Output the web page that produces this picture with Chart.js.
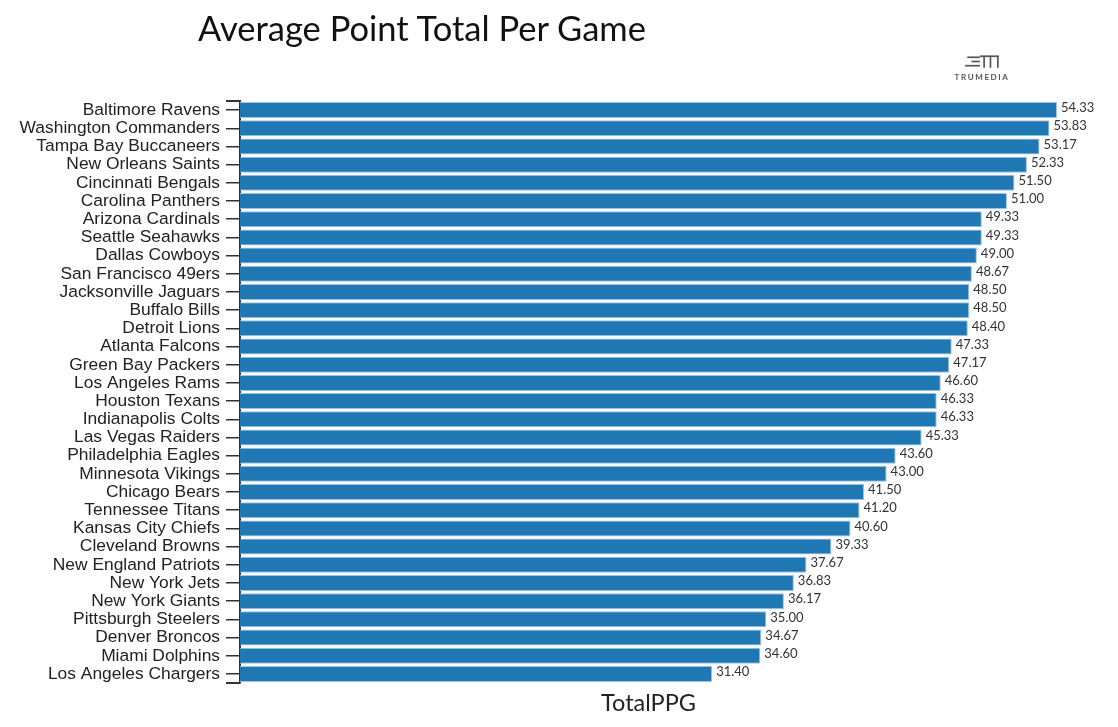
<!DOCTYPE html>
<html>
<head>
<meta charset="utf-8">
<script src="https://cdn.jsdelivr.net/npm/chart.js@4.4.1/dist/chart.umd.min.js"></script>
<style>
  html, body { margin: 0; padding: 0; background: #fff; }
  #wrap { position: relative; width: 1118px; height: 727px; }
  #title {
    position: absolute; left: 198px; top: 7px;
    font-family: Lato, sans-serif; font-size: 34.5px; color: #111;
  }
  #logo {
    position: absolute; left: 952px; top: 53px; width: 60px; text-align: center;
    font-family: Lato, sans-serif; font-size: 8px; font-weight: bold;
    letter-spacing: 1.6px; color: #555;
  }
</style>
</head>
<body>
<div id="wrap">
  <canvas id="chart"></canvas>
  <div id="title">Average Point Total Per Game</div>
  <div id="logo">
    <svg width="38" height="17" viewBox="0 0 36 16">
      <g stroke="#555" stroke-width="1.6" fill="none">
        <line x1="4" y1="4" x2="16" y2="4"/>
        <line x1="8" y1="8" x2="16" y2="8"/>
        <line x1="2" y1="12" x2="16" y2="12"/>
        <line x1="16" y1="3" x2="34" y2="3"/>
        <line x1="20" y1="3" x2="20" y2="14"/>
        <line x1="26" y1="3" x2="26" y2="14"/>
        <line x1="33" y1="3" x2="33" y2="14"/>
      </g>
    </svg>
    <div>TRUMEDIA</div>
  </div>
</div>
<script>
const teams = [
  'Baltimore Ravens', 'Washington Commanders', 'Tampa Bay Buccaneers', 'New Orleans Saints',
  'Cincinnati Bengals', 'Carolina Panthers', 'Arizona Cardinals', 'Seattle Seahawks',
  'Dallas Cowboys', 'San Francisco 49ers', 'Jacksonville Jaguars', 'Buffalo Bills',
  'Detroit Lions', 'Atlanta Falcons', 'Green Bay Packers', 'Los Angeles Rams',
  'Houston Texans', 'Indianapolis Colts', 'Las Vegas Raiders', 'Philadelphia Eagles',
  'Minnesota Vikings', 'Chicago Bears', 'Tennessee Titans', 'Kansas City Chiefs',
  'Cleveland Browns', 'New England Patriots', 'New York Jets', 'New York Giants',
  'Pittsburgh Steelers', 'Denver Broncos', 'Miami Dolphins', 'Los Angeles Chargers'
];
const totalPPG = [
  54.33, 53.83, 53.17, 52.33, 51.50, 51.00, 49.33, 49.33,
  49.00, 48.67, 48.50, 48.50, 48.40, 47.33, 47.17, 46.60,
  46.33, 46.33, 45.33, 43.60, 43.00, 41.50, 41.20, 40.60,
  39.33, 37.67, 36.83, 36.17, 35.00, 34.67, 34.60, 31.40
];

// value text after each bar + outer ticks at both ends of the y axis
const barLabels = {
  id: 'barLabels',
  afterDatasetsDraw(chart) {
    const ctx = chart.ctx;
    const meta = chart.getDatasetMeta(0);
    ctx.save();
    ctx.font = '13px Lato, sans-serif';
    ctx.fillStyle = '#333';
    ctx.textBaseline = 'middle';
    ctx.textAlign = 'left';
    meta.data.forEach((bar, i) => {
      ctx.fillText(totalPPG[i].toFixed(2), bar.x + 4, bar.y - 2);
    });
    const { left, top, bottom } = chart.chartArea;
    ctx.strokeStyle = '#333';
    ctx.lineWidth = 2;
    ctx.beginPath();
    ctx.moveTo(left - 14, top); ctx.lineTo(left, top);
    ctx.moveTo(left - 14, bottom); ctx.lineTo(left, bottom);
    ctx.stroke();
    ctx.restore();
  }
};

new Chart(document.getElementById('chart'), {
  type: 'bar',
  data: {
    labels: teams,
    datasets: [{
      label: 'TotalPPG',
      data: totalPPG,
      backgroundColor: '#1f77b4',
      borderColor: '#9cc3e3',
      borderWidth: 1,
      barPercentage: 0.88,
      categoryPercentage: 1
    }]
  },
  options: {
    indexAxis: 'y',
    responsive: true,
    maintainAspectRatio: false,
    animation: false,
    layout: { padding: { top: 101, right: 61, bottom: 0, left: 0 } },
    plugins: {
      legend: { display: false },
      tooltip: { enabled: false }
    },
    scales: {
      x: {
        min: 0,
        max: Math.max(...totalPPG),
        ticks: { display: false },
        grid: { display: false },
        border: { display: false },
        title: {
          display: true,
          text: 'TotalPPG',
          font: { family: 'Lato', size: 23.5 },
          color: '#222',
          padding: { top: 0, bottom: 9 }
        },
        afterFit(scale) { scale.height = 44; }
      },
      y: {
        offset: true,
        grid: { drawOnChartArea: false, offset: false, tickLength: 14, color: '#333', lineWidth: 1.5 },
        border: { color: '#333', width: 2 },
        ticks: {
          font: { family: 'Liberation Sans', size: 17.4 },
          color: '#222',
          padding: 6,
          autoSkip: false
        },
        afterFit(scale) { scale.width = 240; }
      }
    }
  },
  plugins: [barLabels]
});
</script>
</body>
</html>
